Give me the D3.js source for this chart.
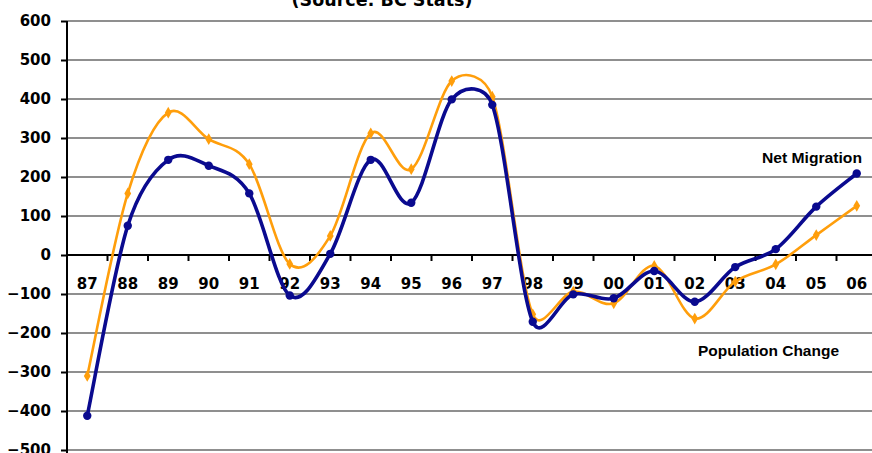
<!DOCTYPE html>
<html>
<head>
<meta charset="utf-8">
<script src="https://cdn.jsdelivr.net/npm/d3@7"></script>
<style>
  html, body { margin: 0; padding: 0; background: #fff; overflow: hidden; }
  svg { display: block; }
</style>
</head>
<body>
<svg id="chart" width="872" height="453"></svg>
<script>
// BC population change vs. net migration, thousands of persons
const years = ["87","88","89","90","91","92","93","94","95","96","97","98","99","00","01","02","03","04","05","06"];
const netMigration     = [-412, 75, 244, 229, 158, -104, 3, 244, 134, 399, 385, -171, -101, -111, -41, -120, -31, 15, 124, 209];
const populationChange = [-310, 158, 365, 297, 233, -23, 49, 312, 220, 446, 406, -152, -94, -124, -28, -163, -68, -24, 51, 126];
const yTicks = [-500, -400, -300, -200, -100, 0, 100, 200, 300, 400, 500, 600];

// Spreadsheet-style smoothing: Bezier handles of 1/6 of the neighbour chord,
// capped at half of the segment length so steep jumps don't overshoot.
function smoothPath(pts) {
  const p = d3.path();
  const dist = (a, b) => Math.hypot(b[0] - a[0], b[1] - a[1]);
  const n = pts.length;
  p.moveTo(pts[0][0], pts[0][1]);
  for (let i = 0; i < n - 1; i++) {
    const p0 = pts[Math.max(i - 1, 0)], p1 = pts[i], p2 = pts[i + 1], p3 = pts[Math.min(i + 2, n - 1)];
    const d12 = dist(p1, p2), d02 = dist(p0, p2), d13 = dist(p1, p3);
    const f1 = d02 / 6 > d12 / 2 ? (d12 / 2) / d02 : 1 / 6;
    const f2 = d13 / 6 > d12 / 2 ? (d12 / 2) / d13 : 1 / 6;
    p.bezierCurveTo(
      p1[0] + (p2[0] - p0[0]) * f1, p1[1] + (p2[1] - p0[1]) * f1,
      p2[0] - (p3[0] - p1[0]) * f2, p2[1] - (p3[1] - p1[1]) * f2,
      p2[0], p2[1]);
  }
  return p.toString();
}

(function draw() {
  const svg = d3.select("#chart");
  const W = 872, H = 453;
  const plotLeft = 67, plotRight = 877, plotTop = 21, plotBottom = 450;

  const x = d3.scaleBand().domain(years).range([plotLeft, plotRight]).paddingInner(0).paddingOuter(0);
  const y = d3.scaleLinear().domain([-500, 600]).range([plotBottom, plotTop]);
  const cx = d => x(d) + x.bandwidth() / 2;

  const labelFont = "'DejaVu Sans', Arial, sans-serif";

  // horizontal gridlines
  svg.append("g")
    .selectAll("line")
    .data(yTicks)
    .join("line")
    .attr("x1", plotLeft).attr("x2", W)
    .attr("y1", d => y(d)).attr("y2", d => y(d))
    .attr("stroke", "#8f8f8f").attr("stroke-width", 2);

  // y axis with outward ticks
  const yAxis = d3.axisLeft(y).tickValues(yTicks).tickSize(6).tickPadding(10).tickFormat(d3.format("d"));
  const gy = svg.append("g").attr("transform", `translate(${plotLeft},0)`).call(yAxis);
  gy.select(".domain").attr("d", `M0,${plotTop}V${H}`).attr("stroke", "#000").attr("stroke-width", 2);
  gy.selectAll(".tick line").attr("stroke", "#000").attr("stroke-width", 2);
  gy.selectAll(".tick text")
    .attr("font-family", labelFont).attr("font-weight", "bold").attr("font-size", 15).attr("fill", "#000");

  // zero line acting as category axis, ticks between years
  const zeroY = y(0);
  svg.append("line")
    .attr("x1", plotLeft).attr("x2", W).attr("y1", zeroY).attr("y2", zeroY)
    .attr("stroke", "#000").attr("stroke-width", 2);
  svg.append("g")
    .selectAll("line")
    .data(years.slice(1))
    .join("line")
    .attr("x1", d => x(d)).attr("x2", d => x(d))
    .attr("y1", zeroY).attr("y2", zeroY + 6)
    .attr("stroke", "#000").attr("stroke-width", 2);
  svg.append("g")
    .selectAll("text")
    .data(years)
    .join("text")
    .attr("x", d => cx(d)).attr("y", zeroY + 34)
    .attr("text-anchor", "middle")
    .attr("font-family", labelFont).attr("font-weight", "bold").attr("font-size", 15)
    .text(d => d);

  const toPoints = vals => vals.map((v, i) => [cx(years[i]), y(v)]);

  svg.append("path")
    .attr("d", smoothPath(toPoints(populationChange)))
    .attr("fill", "none").attr("stroke", "#FF9E0B").attr("stroke-width", 2.6)
    .attr("stroke-linejoin", "round");
  svg.append("g")
    .selectAll("path")
    .data(populationChange)
    .join("path")
    .attr("d", d3.symbol(d3.symbolDiamond, 40))
    .attr("transform", (d, i) => `translate(${cx(years[i])},${y(d)})`)
    .attr("fill", "#FF9E0B");

  svg.append("path")
    .attr("d", smoothPath(toPoints(netMigration)))
    .attr("fill", "none").attr("stroke", "#0A0A8F").attr("stroke-width", 3.6)
    .attr("stroke-linejoin", "round");
  svg.append("g")
    .selectAll("circle")
    .data(netMigration)
    .join("circle")
    .attr("cx", (d, i) => cx(years[i])).attr("cy", d => y(d))
    .attr("r", 4.2)
    .attr("fill", "#0A0A8F");

  // series labels
  svg.append("text")
    .attr("x", 762).attr("y", 163)
    .attr("font-family", "Arial, 'Liberation Sans', sans-serif").attr("font-weight", "bold").attr("font-size", 14)
    .attr("textLength", 100).attr("lengthAdjust", "spacingAndGlyphs")
    .text("Net Migration");
  svg.append("text")
    .attr("x", 698).attr("y", 356)
    .attr("font-family", "Arial, 'Liberation Sans', sans-serif").attr("font-weight", "bold").attr("font-size", 14)
    .attr("textLength", 141).attr("lengthAdjust", "spacingAndGlyphs")
    .text("Population Change");

  // source note (upper title lines sit above the visible area)
  svg.append("text")
    .attr("x", 382).attr("y", 6)
    .attr("text-anchor", "middle")
    .attr("font-family", labelFont).attr("font-weight", "bold").attr("font-size", 17.5)
    .text("(Source: BC Stats)");
})();
</script>
</body>
</html>
